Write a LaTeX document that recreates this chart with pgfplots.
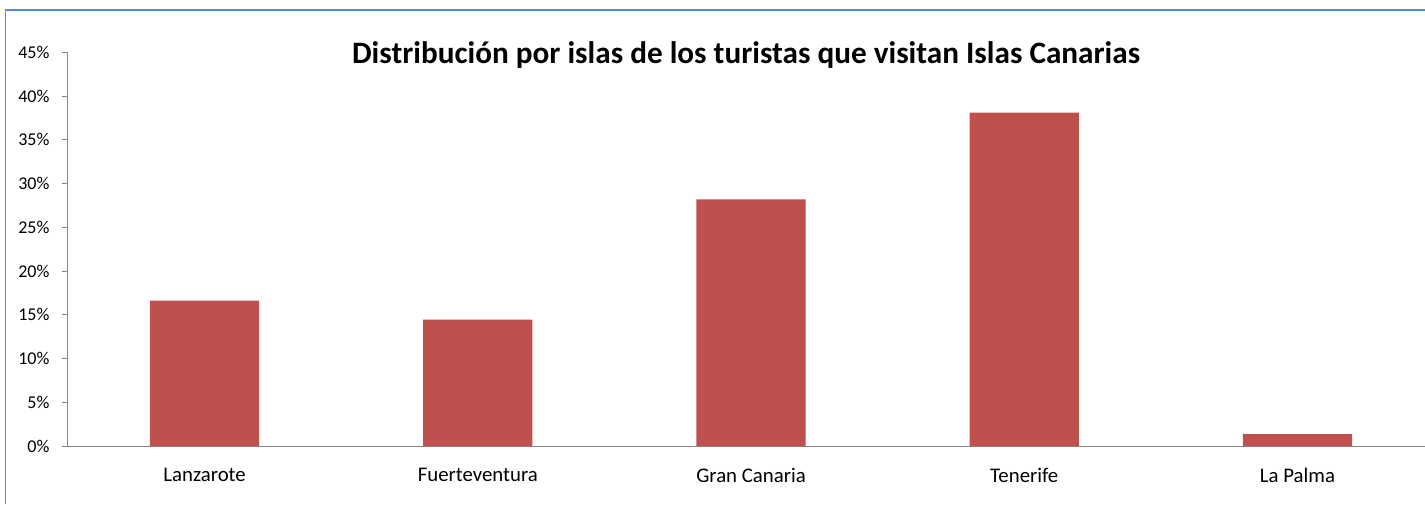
\documentclass[border=0pt]{standalone}
\usepackage{fontspec}
\setmainfont{Carlito}
\usepackage{pgfplots}
\pgfplotsset{compat=1.18}
\definecolor{barred}{RGB}{192,80,77}
\definecolor{axgray}{RGB}{134,134,134}
\definecolor{frameblue}{RGB}{85,142,213}
\begin{document}
\begin{tikzpicture}[x=1pt,y=1pt]
\useasboundingbox (0,0) rectangle (1425,504);
\draw[frameblue, line width=1.5pt] (5.5,0) -- (5.5,494) -- (1425,494);
\node[anchor=base, font=\fontsize{31.2}{36}\selectfont\bfseries, inner sep=0pt] at (746,440.7) {Distribución por islas de los turistas que visitan Islas Canarias};
\begin{axis}[
  at={(68pt,58pt)}, anchor=south west,
  scale only axis,
  width=1357pt, height=393.7pt,
  xmin=-0.5, xmax=4.467,
  ymin=0, ymax=45,
  axis x line*=bottom,
  axis y line*=left,
  axis line style={axgray, line width=1pt},
  ytick={0,5,...,45},
  yticklabel={\pgfmathprintnumber{\tick}\%},
  yticklabel style={font=\fontsize{18}{22}\selectfont, anchor=east, xshift=-9pt},
  xtick=data,
  xticklabels={Lanzarote,Fuerteventura,Gran Canaria,Tenerife,La Palma},
  xticklabel style={font=\fontsize{20.8}{24}\selectfont, yshift=-13pt},
  x tick style={draw=none},
  y tick style={axgray, line width=1pt},
  tick align=outside,
  major tick length=6pt,
  /pgf/number format/assume math mode=true,
  ybar, bar width=0.4,
  clip=false,
]
\addplot[fill=barred, draw=none] coordinates {(0,16.61) (1,14.44) (2,28.20) (3,38.10) (4,1.37)};
\end{axis}
\end{tikzpicture}
\end{document}
